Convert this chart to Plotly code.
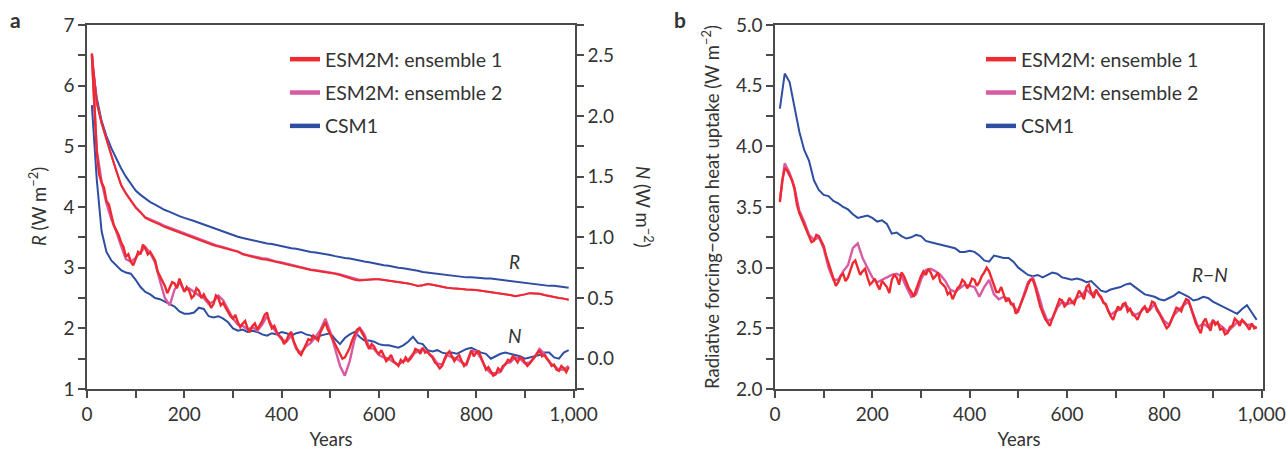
import plotly.graph_objects as go

years = list(range(10, 1000, 10))
years_fine = list(range(10, 995, 5))

# panel a: R (left axis) and N (right axis)
csm1_R = [6.42, 5.80, 5.42, 5.17, 4.97, 4.79, 4.64, 4.50, 4.38, 4.27,
          4.20, 4.14, 4.08, 4.04, 3.99, 3.95, 3.92, 3.88, 3.85, 3.82,
          3.80, 3.77, 3.74, 3.71, 3.68, 3.65, 3.62, 3.59, 3.57, 3.54,
          3.51, 3.49, 3.47, 3.45, 3.44, 3.42, 3.40, 3.39, 3.37, 3.35,
          3.34, 3.32, 3.31, 3.29, 3.28, 3.26, 3.25, 3.24, 3.22, 3.21,
          3.19, 3.17, 3.16, 3.15, 3.13, 3.12, 3.10, 3.09, 3.07, 3.06,
          3.04, 3.03, 3.01, 3.00, 2.99, 2.98, 2.96, 2.95, 2.93, 2.92,
          2.91, 2.90, 2.88, 2.87, 2.86, 2.86, 2.85, 2.84, 2.84, 2.83,
          2.83, 2.82, 2.82, 2.81, 2.80, 2.79, 2.78, 2.76, 2.75, 2.74,
          2.73, 2.72, 2.71, 2.71, 2.70, 2.70, 2.69, 2.68, 2.67]

esm_e1_R = [6.53, 5.72, 5.38, 5.10, 4.85, 4.60, 4.36, 4.22, 4.10, 3.99,
            3.91, 3.82, 3.78, 3.75, 3.71, 3.67, 3.64, 3.61, 3.58, 3.54,
            3.51, 3.48, 3.45, 3.42, 3.40, 3.37, 3.35, 3.33, 3.30, 3.28,
            3.26, 3.22, 3.20, 3.17, 3.15, 3.14, 3.13, 3.11, 3.09, 3.08,
            3.06, 3.04, 3.01, 2.99, 2.97, 2.96, 2.95, 2.94, 2.93, 2.92,
            2.90, 2.88, 2.85, 2.82, 2.80, 2.79, 2.80, 2.81, 2.81, 2.81,
            2.80, 2.79, 2.78, 2.77, 2.76, 2.74, 2.72, 2.70, 2.71, 2.73,
            2.72, 2.70, 2.68, 2.67, 2.66, 2.66, 2.65, 2.64, 2.64, 2.63,
            2.62, 2.61, 2.59, 2.58, 2.57, 2.56, 2.55, 2.53, 2.54, 2.56,
            2.58, 2.58, 2.57, 2.55, 2.53, 2.52, 2.50, 2.49, 2.47]

esm_e2_R = [6.53, 5.72, 5.38, 5.10, 4.86, 4.61, 4.37, 4.23, 4.11, 4.00,
            3.92, 3.83, 3.80, 3.77, 3.73, 3.69, 3.66, 3.63, 3.60, 3.56,
            3.53, 3.50, 3.47, 3.44, 3.42, 3.39, 3.36, 3.34, 3.31, 3.29,
            3.27, 3.23, 3.21, 3.19, 3.17, 3.16, 3.15, 3.12, 3.10, 3.09,
            3.07, 3.05, 3.02, 3.00, 2.98, 2.97, 2.96, 2.95, 2.94, 2.93,
            2.91, 2.89, 2.87, 2.84, 2.82, 2.80, 2.80, 2.81, 2.81, 2.81,
            2.80, 2.79, 2.78, 2.77, 2.76, 2.74, 2.72, 2.70, 2.71, 2.73,
            2.72, 2.70, 2.68, 2.67, 2.66, 2.66, 2.65, 2.64, 2.64, 2.63,
            2.62, 2.61, 2.59, 2.58, 2.57, 2.56, 2.55, 2.53, 2.54, 2.56,
            2.58, 2.58, 2.57, 2.55, 2.53, 2.52, 2.50, 2.49, 2.47]

csm1_N = [2.09, 1.48, 1.05, 0.88, 0.81, 0.77, 0.73, 0.71, 0.70, 0.65,
          0.59, 0.55, 0.53, 0.50, 0.49, 0.47, 0.45, 0.43, 0.39, 0.37,
          0.37, 0.38, 0.42, 0.41, 0.35, 0.34, 0.35, 0.33, 0.30, 0.25,
          0.23, 0.24, 0.22, 0.23, 0.22, 0.20, 0.19, 0.21, 0.20, 0.22,
          0.21, 0.19, 0.21, 0.22, 0.20, 0.19, 0.17, 0.19, 0.20, 0.21,
          0.16, 0.12, 0.17, 0.20, 0.22, 0.18, 0.15, 0.15, 0.14, 0.12,
          0.11, 0.11, 0.10, 0.09, 0.11, 0.14, 0.18, 0.13, 0.12, 0.07,
          0.06, 0.07, 0.05, 0.04, 0.05, 0.04, 0.06, 0.08, 0.09, 0.07,
          0.05, 0.04, 0.00, 0.02, 0.04, 0.05, 0.04, 0.03, 0.02, 0.00,
          0.01, 0.02, 0.03, 0.05, 0.05, 0.01, 0.00, 0.05, 0.07]

# ensemble 1 read every 5 years (noisier trace)
esm_e1_N = [2.51, 2.05, 1.70, 1.52, 1.45, 1.41, 1.30, 1.27, 1.18, 1.10,
            1.06, 1.02, 0.96, 0.92, 0.84, 0.86, 0.80, 0.77, 0.82, 0.88,
            0.86, 0.94, 0.91, 0.86, 0.88, 0.84, 0.81, 0.72, 0.68, 0.63,
            0.60, 0.54, 0.58, 0.63, 0.62, 0.58, 0.66, 0.60, 0.55, 0.59,
            0.56, 0.50, 0.52, 0.58, 0.56, 0.50, 0.53, 0.49, 0.47, 0.42,
            0.45, 0.52, 0.50, 0.44, 0.46, 0.42, 0.38, 0.35, 0.33, 0.36,
            0.30, 0.26, 0.29, 0.31, 0.25, 0.22, 0.27, 0.29, 0.24, 0.27,
            0.31, 0.36, 0.38, 0.30, 0.25, 0.27, 0.22, 0.19, 0.17, 0.12,
            0.15, 0.20, 0.22, 0.14, 0.10, 0.05, 0.03, 0.07, 0.12, 0.16,
            0.15, 0.19, 0.17, 0.15, 0.22, 0.26, 0.30, 0.24, 0.20, 0.16,
            0.12, 0.08, 0.04, 0.00, 0.01, 0.05, 0.09, 0.15, 0.20, 0.24,
            0.25, 0.22, 0.18, 0.12, 0.08, 0.12, 0.10, 0.06, 0.04, 0.07,
            0.02, -0.02, 0.00, 0.03, -0.02, -0.04, -0.06, -0.01, -0.03, 0.01,
            -0.02, 0.00, 0.03, 0.08, 0.07, 0.04, 0.09, 0.05, 0.06, 0.03,
            0.01, -0.03, -0.05, -0.08, -0.06, 0.00, 0.04, 0.06, 0.02, -0.02,
            0.01, 0.03, -0.02, -0.06, -0.04, 0.02, 0.07, 0.02, 0.05, 0.06,
            0.01, -0.04, -0.09, -0.07, -0.11, -0.14, -0.13, -0.08, -0.10, -0.06,
            -0.05, -0.01, -0.02, 0.02, 0.00, -0.03, 0.01, 0.00, -0.03, -0.06,
            -0.04, -0.01, 0.02, 0.05, 0.07, 0.02, 0.03, 0.00, -0.02, -0.06,
            -0.05, -0.09, -0.10, -0.06, -0.08, -0.11, -0.07]

esm_e2_N = [2.51, 1.72, 1.46, 1.28, 1.15, 1.05, 0.93, 0.82, 0.80, 0.83,
            0.88, 0.92, 0.87, 0.79, 0.64, 0.50, 0.44, 0.57, 0.63, 0.56,
            0.58, 0.55, 0.52, 0.50, 0.45, 0.47, 0.52, 0.48, 0.40, 0.33,
            0.28, 0.27, 0.24, 0.26, 0.23, 0.28, 0.35, 0.27, 0.21, 0.16,
            0.14, 0.19, 0.08, 0.05, 0.10, 0.13, 0.18, 0.24, 0.33, 0.22,
            0.08, -0.06, -0.14, -0.02, 0.16, 0.26, 0.20, 0.09, 0.08, 0.03,
            0.01, 0.00, -0.03, -0.05, -0.02, -0.01, 0.04, 0.06, 0.08, 0.05,
            0.02, -0.04, -0.05, 0.03, 0.01, 0.00, -0.03, -0.05, 0.06, 0.06,
            0.00, -0.08, -0.12, -0.12, -0.11, -0.04, -0.03, 0.01, 0.00, -0.04,
            -0.03, 0.01, 0.08, 0.04, -0.03, -0.06, -0.09, -0.09, -0.06]

# panel b: R - N
csm1_RN = [4.31, 4.60, 4.53, 4.31, 4.12, 3.97, 3.88, 3.72, 3.64, 3.60,
           3.59, 3.55, 3.53, 3.50, 3.48, 3.44, 3.41, 3.42, 3.43, 3.41,
           3.38, 3.39, 3.36, 3.28, 3.29, 3.26, 3.24, 3.25, 3.27, 3.26,
           3.22, 3.21, 3.20, 3.19, 3.18, 3.17, 3.16, 3.13, 3.13, 3.14,
           3.13, 3.10, 3.06, 3.05, 3.10, 3.09, 3.08, 3.08, 3.05, 3.00,
           2.97, 2.94, 2.93, 2.94, 2.92, 2.94, 2.96, 2.95, 2.92, 2.91,
           2.90, 2.91, 2.90, 2.88, 2.89, 2.85, 2.81, 2.80, 2.82, 2.83,
           2.84, 2.86, 2.87, 2.84, 2.81, 2.78, 2.77, 2.76, 2.74, 2.73,
           2.75, 2.77, 2.80, 2.78, 2.76, 2.73, 2.74, 2.76, 2.75, 2.72,
           2.70, 2.68, 2.66, 2.64, 2.62, 2.66, 2.69, 2.63, 2.57]

esm_e1_RN = [3.54, 3.72, 3.82, 3.80, 3.76, 3.72, 3.65, 3.52, 3.45, 3.40,
             3.36, 3.30, 3.25, 3.21, 3.22, 3.27, 3.26, 3.22, 3.18, 3.10,
             3.04, 2.97, 2.92, 2.85, 2.88, 2.93, 2.95, 2.89, 2.92, 2.98,
             3.04, 3.06, 3.00, 2.94, 2.97, 2.99, 2.92, 2.86, 2.88, 2.91,
             2.86, 2.82, 2.89, 2.86, 2.84, 2.79, 2.90, 2.94, 2.92, 2.86,
             2.96, 2.93, 2.88, 2.83, 2.80, 2.76, 2.82, 2.88, 2.93, 2.97,
             2.94, 2.99, 2.96, 2.91, 2.93, 2.96, 2.88, 2.86, 2.84, 2.78,
             2.80, 2.74, 2.78, 2.83, 2.85, 2.90, 2.88, 2.83, 2.86, 2.91,
             2.90, 2.85, 2.88, 2.93, 2.96, 3.00, 2.97, 2.91, 2.86, 2.80,
             2.80, 2.84, 2.78, 2.72, 2.75, 2.70, 2.70, 2.62, 2.65, 2.70,
             2.74, 2.80, 2.86, 2.90, 2.90, 2.84, 2.76, 2.68, 2.63, 2.58,
             2.55, 2.52, 2.58, 2.63, 2.68, 2.74, 2.73, 2.68, 2.70, 2.75,
             2.72, 2.70, 2.76, 2.81, 2.78, 2.74, 2.84, 2.86, 2.79, 2.75,
             2.82, 2.78, 2.76, 2.71, 2.70, 2.64, 2.60, 2.57, 2.63, 2.68,
             2.65, 2.70, 2.71, 2.64, 2.66, 2.61, 2.60, 2.57, 2.62, 2.66,
             2.68, 2.63, 2.66, 2.72, 2.71, 2.65, 2.62, 2.58, 2.55, 2.50,
             2.52, 2.57, 2.62, 2.67, 2.66, 2.64, 2.70, 2.74, 2.73, 2.67,
             2.60, 2.54, 2.50, 2.46, 2.55, 2.58, 2.52, 2.48, 2.57, 2.53,
             2.55, 2.49, 2.50, 2.45, 2.46, 2.51, 2.52, 2.58, 2.56, 2.52,
             2.57, 2.55, 2.52, 2.49, 2.54, 2.50, 2.51]

esm_e2_RN = [3.56, 3.86, 3.78, 3.66, 3.47, 3.38, 3.27, 3.23, 3.25, 3.16,
             3.00, 2.90, 2.90, 2.97, 3.02, 3.16, 3.20, 3.08, 3.00, 2.92,
             2.88, 2.90, 2.92, 2.94, 2.95, 2.93, 2.84, 2.76, 2.78, 2.90,
             2.98, 2.99, 2.97, 2.94, 2.89, 2.82, 2.80, 2.83, 2.86, 2.85,
             2.84, 2.76, 2.84, 2.90, 2.78, 2.74, 2.76, 2.74, 2.68, 2.64,
             2.76, 2.88, 2.92, 2.80, 2.66, 2.56, 2.58, 2.67, 2.72, 2.70,
             2.71, 2.75, 2.77, 2.82, 2.78, 2.81, 2.75, 2.69, 2.61, 2.64,
             2.66, 2.70, 2.65, 2.61, 2.63, 2.67, 2.65, 2.70, 2.63, 2.56,
             2.53, 2.61, 2.65, 2.69, 2.72, 2.61, 2.51, 2.54, 2.51, 2.56,
             2.54, 2.51, 2.47, 2.51, 2.55, 2.56, 2.53, 2.53, 2.50]

legend_names = ["ESM2M: ensemble 1", "ESM2M: ensemble 2", "CSM1"]

RED = "#EE2A30"
PINK = "#D85AA2"
BLUE = "#2E4EA3"
INK = "#333333"
AXIS = "#4a4a4a"
FONT = "Lato"
W, H = 1286, 450


def px_x(p):
    return p / W


def px_y(p):
    return 1 - p / H


fig = go.Figure()


def add_line(x, y, color, xa, ya, width=2.0):
    fig.add_trace(go.Scatter(x=x, y=y, mode="lines", xaxis=xa, yaxis=ya,
                             line=dict(color=color, width=width),
                             showlegend=False, hoverinfo="skip"))


# panel a
add_line(years, csm1_R, BLUE, "x", "y")
add_line(years, esm_e2_R, PINK, "x", "y")
add_line(years, esm_e1_R, RED, "x", "y")
add_line(years, csm1_N, BLUE, "x", "y2")
add_line(years, esm_e2_N, PINK, "x", "y2", 2.4)
add_line(years_fine, esm_e1_N, RED, "x", "y2", 2.4)

# panel b
add_line(years, csm1_RN, BLUE, "x2", "y3")
add_line(years, esm_e2_RN, PINK, "x2", "y3", 2.4)
add_line(years_fine, esm_e1_RN, RED, "x2", "y3", 2.4)

# legend entries
for leg, xa, ya in [("legend", "x", "y"), ("legend2", "x2", "y3")]:
    for i, (name, col) in enumerate(zip(legend_names, [RED, PINK, BLUE])):
        fig.add_trace(go.Scatter(x=[None], y=[None], mode="lines", name=name,
                                 xaxis=xa, yaxis=ya, legend=leg,
                                 legendgroup=leg + str(i),
                                 line=dict(color=col, width=4.5)))

tick = dict(ticks="outside", ticklen=7, tickwidth=1.5, tickcolor=AXIS)
base = dict(showline=True, linecolor=AXIS, linewidth=1.5, showgrid=False,
            zeroline=False, automargin=False,
            tickfont=dict(family=FONT, size=19, color=INK), **tick)

xcommon = dict(base, range=[0, 1003], dtick=200, tickformat=",d",
               minor=dict(dtick=100, **tick),
               title=dict(text="Years", font=dict(family=FONT, size=18.5, color=INK),
                          standoff=10))

legend_style = dict(xanchor="left", yanchor="top", bgcolor="rgba(0,0,0,0)",
                    tracegroupgap=5, font=dict(family=FONT, size=19.5, color=INK))

fig.update_layout(
    width=W, height=H,
    margin=dict(l=0, r=0, t=0, b=0, autoexpand=False),
    plot_bgcolor="white", paper_bgcolor="white",
    font=dict(family=FONT, size=18, color=INK),
    xaxis=dict(xcommon, domain=[px_x(87), px_x(575)], anchor="y", mirror=True),
    yaxis=dict(base, domain=[px_y(389), px_y(25)], range=[1, 7], dtick=1,
               minor=dict(dtick=0.5, **tick), anchor="x"),
    yaxis2=dict(base, overlaying="y", side="right", anchor="x",
                range=[-0.25, 2.75], dtick=0.5, tickformat=".1f",
                minor=dict(dtick=0.25, **tick)),
    xaxis2=dict(xcommon, domain=[px_x(775), px_x(1263)], anchor="y3", mirror=True),
    yaxis3=dict(base, domain=[px_y(389), px_y(25)], range=[2, 5], dtick=0.5,
                tickformat=".1f", minor=dict(dtick=0.25, **tick), anchor="x2",
                mirror=True),
    legend=dict(legend_style, x=px_x(285), y=px_y(40)),
    legend2=dict(legend_style, x=px_x(981), y=px_y(40)),
)

ann = [
    dict(text="<b>a</b>", x=px_x(15), y=px_y(20), font_size=21),
    dict(text="<b>b</b>", x=px_x(680), y=px_y(19), font_size=21),
    dict(text="<i>R</i> (W m<sup>−2</sup>)", x=px_x(38), y=px_y(207), textangle=-90),
    dict(text="<i>N</i> (W m<sup>−2</sup>)", x=px_x(644), y=px_y(207), textangle=90),
    dict(text="Radiative forcing−ocean heat uptake (W m<sup>−2</sup>)",
         x=px_x(711), y=px_y(207), textangle=-90),
]
for a in ann:
    fs = a.pop("font_size", 18.5)
    fig.add_annotation(xref="paper", yref="paper", showarrow=False,
                       xanchor="center", yanchor="middle",
                       font=dict(family=FONT, size=fs, color=INK), **a)

# curve labels in data coordinates
lab_font = dict(family=FONT, size=19, color=INK)
fig.add_annotation(x=879, y=3.10, xref="x", yref="y", text="<i>R</i>",
                   showarrow=False, font=lab_font)
fig.add_annotation(x=879, y=0.19, xref="x", yref="y2", text="<i>N</i>",
                   showarrow=False, font=lab_font)
fig.add_annotation(x=895, y=2.94, xref="x2", yref="y3", text="<i>R</i>−<i>N</i>",
                   showarrow=False, font=lab_font)

# the page body has a default margin; drop it so the figure sits at the corner
fig.write_html("out.html", config={"displayModeBar": False},
               post_script="document.body.style.margin='0';")
